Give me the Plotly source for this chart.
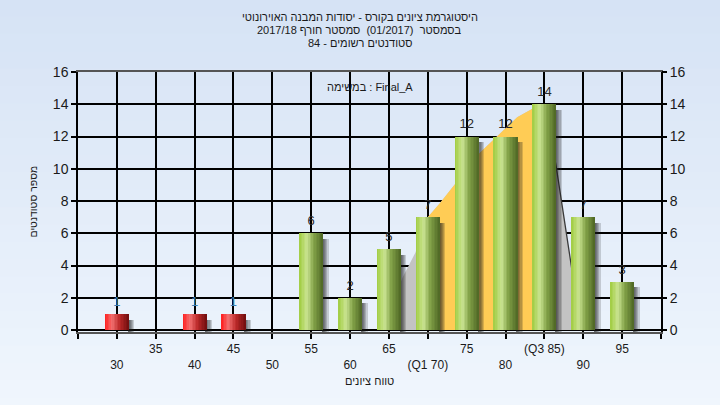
import plotly.graph_objects as go

# ---------------- data ----------------
categories = [30, 35, 40, 45, 50, 55, 60, 65, 70, 75, 80, 85, 90, 95]
counts = [1, 0, 1, 1, 0, 6, 2, 5, 7, 12, 12, 14, 7, 3]
tick_labels = ["30", "35", "40", "45", "50", "55", "60", "65", "(Q1 70)",
               "75", "80", "(Q3 85)", "90", "95"]
pass_grade = 55
q1, q3 = 70, 85
# distribution curve drawn behind the bars
curve_x = [64.0, 66.8, 68.4, 70.0, 71.6, 76.7, 81.5, 83.4, 85.0, 86.5, 88.3, 89.7]
curve_y = [0.0, 3.3, 4.8, 7.0, 7.9, 11.0, 13.2, 13.7, 14.0, 10.2, 4.5, 0.0]

title_lines = [
    "היסטוגרמת ציונים בקורס - יסודות המבנה האוירונוטי",
    "בסמסטר  (01/2017)  סמסטר חורף 2017/18",
    "סטודנטים רשומים - 84",
]
task_label = "במשימה : Final_A"
x_title = "טווח ציונים"
y_title = "מספר סטודנטים"

FONT = "Liberation Sans, Arial, DejaVu Sans, sans-serif"

# ---------------- helpers (style only) ----------------
def lerp_stops(stops, t):
    for (t0, c0), (t1, c1) in zip(stops, stops[1:]):
        if t0 <= t <= t1:
            f = (t - t0) / (t1 - t0) if t1 > t0 else 0
            return "rgb(%d,%d,%d)" % tuple(round(a + (b - a) * f) for a, b in zip(c0, c1))
    return "rgb(%d,%d,%d)" % stops[-1][1]

def path_of(xs, ys, close=True):
    p = "M " + " L ".join("%g,%g" % (x, y) for x, y in zip(xs, ys))
    return p + (" Z" if close else "")

green_stops = [(0, (160, 204, 64)), (0.32, (202, 228, 146)), (0.6, (130, 162, 72)), (1, (78, 102, 36))]
red_stops = [(0, (255, 28, 28)), (0.3, (242, 112, 112)), (0.62, (186, 40, 40)), (1, (112, 14, 14))]

bar_w = 3.1
n_slices = 16
step = bar_w / n_slices
label_gap = 0.3

fig = go.Figure()

# background gradient (paper)
n_bands = 24
top_c, bot_c = (214, 227, 245), (240, 246, 253)
for i in range(n_bands):
    f = i / (n_bands - 1)
    col = "rgb(%d,%d,%d)" % tuple(round(a + (b - a) * f) for a, b in zip(top_c, bot_c))
    y0 = 1.28 - i * (1.6 / n_bands)
    fig.add_shape(type="rect", xref="paper", yref="paper", x0=-0.2, x1=1.2,
                  y0=y0 - 1.6 / n_bands - 0.01, y1=y0, fillcolor=col,
                  line_width=0, layer="below")

# distribution curve: full (light gray) and Q1-Q3 part (orange), above grid, below bars
fig.add_shape(type="path", xref="x", yref="y", path=path_of(curve_x, curve_y),
              fillcolor="#c3c3c3", line_width=0, layer="between")
ox = [q1] + [x for x in curve_x if q1 <= x <= q3] + [q3]
oy = [0] + [y for x, y in zip(curve_x, curve_y) if q1 <= x <= q3] + [0]
fig.add_shape(type="path", xref="x", yref="y", path=path_of(ox, oy),
              fillcolor="#ffcc55", line_width=0, layer="between")
rx = [x for x in curve_x if x >= q3]
ry = [y for x, y in zip(curve_x, curve_y) if x >= q3]
fig.add_shape(type="path", xref="x", yref="y", path=path_of(rx, ry, close=False),
              line=dict(color="#3a3a3a", width=1.3), layer="between")

# shadows
sh_y = [v - 0.05 if v > 0 else None for v in counts]
for k, wd in enumerate([0.85, 0.68, 0.52, 0.38, 0.24]):
    fig.add_trace(go.Bar(x=categories, y=sh_y, base=-0.3, width=wd,
                         offset=bar_w / 2 - 0.15,
                         marker=dict(color="rgba(30,30,30,0.18)", line_width=0),
                         hoverinfo="skip", showlegend=False))

# gradient bars (cylinder look)
for i in range(n_slices):
    t = (i + 0.5) / n_slices
    cols = [lerp_stops(red_stops if c < pass_grade else green_stops, t) for c in categories]
    fig.add_trace(go.Bar(x=categories, y=counts, width=bar_w - i * step,
                         offset=-bar_w / 2 + i * step,
                         marker=dict(color=cols, line_width=0),
                         hoverinfo="skip", showlegend=False))

# value labels
lx = [c for c, v in zip(categories, counts) if v > 0]
ly = [v for v in counts if v > 0]
lc = ["#3b7fb5" if c < pass_grade else "#2a2a2a" for c in lx]
fig.add_trace(go.Scatter(x=lx, y=[v + label_gap for v in ly], mode="text",
                         text=[str(v) for v in ly],
                         textposition="top center",
                         textfont=dict(family=FONT, size=13, color=lc),
                         hoverinfo="skip", showlegend=False))

# invisible trace for right axis
fig.add_trace(go.Scatter(x=[categories[0]], y=[0], yaxis="y2", mode="markers",
                         marker=dict(opacity=0), hoverinfo="skip", showlegend=False))

tickvals = [25] + categories + [100]
ticktext = [""] + [lab if i % 2 == 1 else "<br>" + lab for i, lab in enumerate(tick_labels)] + [""]

axis_common = dict(range=[-0.12, 16], dtick=2, tick0=0, ticks="outside", ticklen=5,
                   tickwidth=1.5, tickcolor="black",
                   tickfont=dict(family=FONT, size=14, color="#1a1a1a"))

fig.update_layout(
    width=720, height=405,
    margin=dict(l=78, r=59, t=72, b=73, autoexpand=False),
    paper_bgcolor="#e3edf8", plot_bgcolor="#b3b3b3",
    barmode="overlay", bargap=0,
    font=dict(family=FONT, color="#1a1a1a"),
    xaxis=dict(range=[25, 100], tickmode="array", tickvals=tickvals, ticktext=ticktext,
               showgrid=True, gridcolor="black", gridwidth=1.5,
               ticks="outside", ticklen=5, tickwidth=1.5, tickcolor="black",
               showline=True, linecolor="#555555", linewidth=1.5, mirror=True,
               zeroline=False, tickangle=0,
               tickfont=dict(family=FONT, size=12, color="#1a1a1a")),
    yaxis=dict(showgrid=True, gridcolor="black", gridwidth=1.5, zeroline=False,
               showline=True, linecolor="black", linewidth=1.5, mirror=True,
               **axis_common),
    yaxis2=dict(overlaying="y", side="right", showgrid=False, zeroline=False,
                showline=False, **axis_common),
    showlegend=False,
)

ys = [1.2115, 1.1615, 1.1115]
for txt, yy in zip(title_lines, ys):
    fig.add_annotation(text=txt, xref="paper", yref="paper", x=0.4837, y=yy,
                       xanchor="center", yanchor="middle", showarrow=False,
                       font=dict(family=FONT, size=11, color="#1a1a1a"))
fig.add_annotation(text=task_label, xref="paper", yref="paper", x=0.5, y=0.9435,
                   xanchor="center", yanchor="middle", showarrow=False,
                   font=dict(family=FONT, size=11, color="#1a1a1a"))
fig.add_annotation(text=x_title, xref="paper", yref="paper", x=0.5, y=-0.1885,
                   xanchor="center", yanchor="middle", showarrow=False,
                   font=dict(family=FONT, size=11, color="#1a1a1a"))
fig.add_annotation(text=y_title, xref="paper", yref="paper", x=-0.078, y=0.5,
                   xanchor="center", yanchor="middle", showarrow=False, textangle=-90,
                   font=dict(family=FONT, size=10.5, color="#1a1a1a"))

fig.write_html("out.html", config={"displayModeBar": False},
               post_script="document.body.style.margin='0';")
